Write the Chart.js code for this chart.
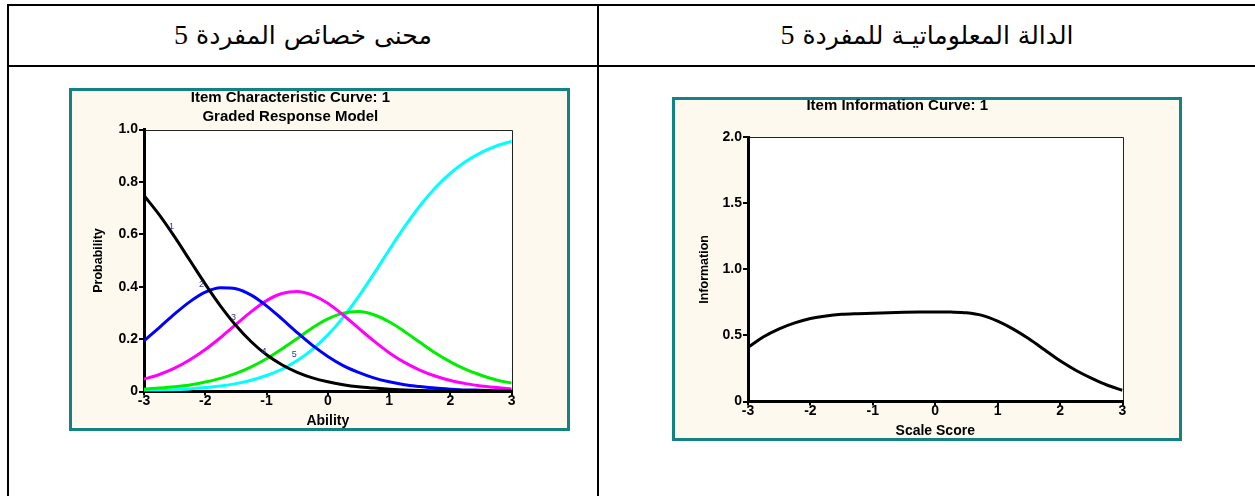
<!DOCTYPE html>
<html><head><meta charset="utf-8">
<script src="https://cdn.jsdelivr.net/npm/chart.js@4.4.1/dist/chart.umd.min.js"></script>
<style>
html,body{margin:0;padding:0;background:#fff;width:1255px;height:496px;overflow:hidden;position:relative;}
.line{position:absolute;background:#000;}
.head{position:absolute;top:5px;height:59px;display:flex;align-items:center;justify-content:center;color:#000;white-space:nowrap;}
.head span.t{display:inline-block;direction:rtl;font-family:"DejaVu Sans";font-size:25px;}
.head span.d{font-family:"Liberation Serif";font-size:28px;}
.frame{position:absolute;background:#FEF9EE;border:3px solid #138282;box-sizing:border-box;}
.cv{position:absolute;}
</style></head><body>
<div class="line" style="left:7px;top:4px;width:1260px;height:2px"></div>
<div class="line" style="left:7px;top:4px;width:2px;height:500px"></div>
<div class="line" style="left:7px;top:65px;width:1260px;height:2px"></div>
<div class="line" style="left:597px;top:4px;width:2px;height:500px"></div>
<div class="head" style="left:9px;width:588px"><span class="t">محنى خصائص المفردة <span class="d">5</span></span></div>
<div class="head" style="left:599px;width:656px"><span class="t">الدالة المعلوماتيـة للمفردة <span class="d">5</span></span></div>
<div class="frame" style="left:69px;top:88px;width:501px;height:343px"></div>
<div class="frame" style="left:672px;top:97px;width:510px;height:344px"></div>
<canvas id="icc" class="cv" width="501" height="347" style="left:69px;top:84px"></canvas>
<canvas id="iic" class="cv" width="510" height="349" style="left:672px;top:92px"></canvas>
<script>
// ---- data ----
const theta = [-3,-2.75,-2.5,-2.25,-2,-1.75,-1.5,-1.25,-1,-0.75,-0.5,-0.25,0,0.25,0.5,0.75,1,1.25,1.5,1.75,2,2.25,2.5,2.75,3];
const cat1 = [0.748,0.674,0.590,0.500,0.410,0.326,0.252,0.190,0.140,0.102,0.073,0.052,0.037,0.026,0.018,0.013,0.009,0.006,0.004,0.003,0.002,0.002,0.001,0.001,0.001];
const cat2 = [0.193,0.244,0.296,0.343,0.379,0.396,0.392,0.368,0.327,0.277,0.225,0.176,0.134,0.099,0.073,0.052,0.037,0.026,0.019,0.013,0.009,0.006,0.005,0.003,0.002];
const cat3 = [0.047,0.065,0.089,0.121,0.160,0.206,0.256,0.305,0.347,0.374,0.382,0.368,0.337,0.292,0.242,0.193,0.148,0.111,0.082,0.059,0.042,0.030,0.021,0.015,0.010];
const cat4 = [0.009,0.013,0.018,0.025,0.036,0.050,0.069,0.094,0.125,0.162,0.202,0.243,0.277,0.299,0.305,0.293,0.266,0.229,0.188,0.148,0.113,0.084,0.062,0.044,0.032];
const cat5 = [0.004,0.005,0.007,0.010,0.015,0.021,0.030,0.043,0.061,0.085,0.118,0.161,0.216,0.283,0.362,0.449,0.540,0.628,0.708,0.777,0.833,0.878,0.912,0.937,0.955];
const info = [0.41,0.49,0.55,0.595,0.628,0.648,0.66,0.665,0.668,0.672,0.675,0.677,0.678,0.677,0.672,0.652,0.608,0.548,0.475,0.392,0.308,0.237,0.177,0.125,0.085];
const catNames = ['1','2','3','4','5'];
const catLabelX = [-2.55,-2.06,-1.54,-1.04,-0.55];
const catLabelY = [0.629,0.409,0.282,0.152,0.142];
const xTicks = [-3,-2,-1,0,1,2,3];
const xTickLabels = ['-3','-2','-1','0','1','2','3'];
const probTicks = [0,0.2,0.4,0.6,0.8,1.0];
const probTickLabels = ['0','0.2','0.4','0.6','0.8','1.0'];
const infoTicks = [0,0.5,1.0,1.5,2.0];
const infoTickLabels = ['0','0.5','1.0','1.5','2.0'];
const iccTitle = ['Item Characteristic Curve: 1','Graded Response Model'];
const iicTitle = 'Item Information Curve: 1';

// ---- rendering ----
const FONT = '"Liberation Sans", Arial, sans-serif';
Chart.defaults.font.family = FONT;
Chart.defaults.color = '#000';

const plotFrame = {
  id: 'plotFrame',
  beforeDraw(chart) {
    const {ctx, chartArea: a} = chart;
    ctx.save();
    ctx.fillStyle = '#fff';
    ctx.fillRect(a.left, a.top, a.right - a.left, a.bottom - a.top);
    ctx.strokeStyle = '#222';
    ctx.lineWidth = 1;
    ctx.beginPath();
    ctx.moveTo(a.left, Math.round(a.top) + 0.5);
    ctx.lineTo(Math.round(a.right) + 0.5, Math.round(a.top) + 0.5);
    ctx.lineTo(Math.round(a.right) + 0.5, a.bottom);
    ctx.stroke();
    ctx.restore();
  }
};
const curveLabels = {
  id: 'curveLabels',
  afterDatasetsDraw(chart, args, opts) {
    if (!opts.text) return;
    const {ctx, scales: {x, y}} = chart;
    ctx.save();
    ctx.fillStyle = opts.color;
    ctx.font = '9px ' + FONT;
    ctx.textAlign = 'center';
    ctx.textBaseline = 'middle';
    opts.text.forEach((t, i) => ctx.fillText(t, x.getPixelForValue(opts.xs[i]), y.getPixelForValue(opts.ys[i])));
    ctx.restore();
  }
};

function pts(ys) { return theta.map((t, i) => ({x: t, y: ys[i]})); }
function ds(ys, color) {
  return {data: pts(ys), borderColor: color, borderWidth: 3, pointRadius: 0, fill: false,
          cubicInterpolationMode: 'monotone'};
}
function xScale(titleText) {
  return {
    type: 'linear', min: -3, max: 3,
    afterBuildTicks: s => { s.ticks = xTicks.map(v => ({value: v})); },
    afterFit: s => { s.height = 39.5; },
    ticks: {callback: (v, i) => xTickLabels[i], font: {size: 14, weight: 'bold', lineHeight: 1}, padding: -1, color: '#000', maxRotation: 0},
    grid: {display: true, drawOnChartArea: false, drawTicks: true, tickLength: 4, color: '#000', lineWidth: 2},
    border: {display: true, color: '#000', width: 3},
    title: {display: true, text: titleText, font: {size: 14, weight: 'bold', lineHeight: 1.2}, padding: {top: 0, bottom: 1.9}, color: '#000'}
  };
}
function yScale(titleText, max, ticks, labels, width, titlePad) {
  return {
    type: 'linear', min: 0, max: max,
    afterBuildTicks: s => { s.ticks = ticks.map(v => ({value: v})); },
    afterFit: s => { s.width = width; },
    ticks: {callback: (v, i) => labels[i], font: {size: 14, weight: 'bold'}, padding: 1, color: '#000'},
    grid: {display: true, drawOnChartArea: false, drawTicks: true, tickLength: 5, color: '#000', lineWidth: 2},
    border: {display: true, color: '#000', width: 3},
    title: {display: true, text: titleText, font: {size: 12.5, weight: 'bold', lineHeight: 1.2}, padding: {top: titlePad, bottom: 0}, color: '#000'}
  };
}

new Chart(document.getElementById('icc'), {
  type: 'line',
  data: {datasets: [ds(cat1, '#000000'), ds(cat2, '#0000FF'), ds(cat3, '#FF00FF'), ds(cat4, '#00EE00'), ds(cat5, '#00FFFF')]},
  options: {
    responsive: false, animation: false, events: [],
    layout: {padding: {left: 0, right: 58.3, top: 0, bottom: 0}},
    scales: {x: xScale('Ability'), y: yScale('Probability', 1, probTicks, probTickLabels, 75, 21.8)},
    plugins: {
      legend: {display: false}, tooltip: {enabled: false},
      title: {display: true, text: iccTitle, color: '#000', font: {size: 15, weight: 'bold', lineHeight: 18.4 / 15}, padding: {top: 5.1, bottom: 3.6}},
      curveLabels: {text: catNames, xs: catLabelX, ys: catLabelY, color: '#33339a'}
    }
  },
  plugins: [plotFrame, curveLabels]
});

new Chart(document.getElementById('iic'), {
  type: 'line',
  data: {datasets: [ds(info, '#000000')]},
  options: {
    responsive: false, animation: false, events: [],
    layout: {padding: {left: 0, right: 59.5, top: 0, bottom: 0}},
    scales: {x: xScale('Scale Score'), y: yScale('Information', 2, infoTicks, infoTickLabels, 76, 25.5)},
    plugins: {
      legend: {display: false}, tooltip: {enabled: false},
      title: {display: true, text: iicTitle, color: '#000', font: {size: 15, weight: 'bold', lineHeight: 18.4 / 15}, padding: {top: 4.5, bottom: 22.4}},
      curveLabels: {}
    }
  },
  plugins: [plotFrame, curveLabels]
});
</script>
</body></html>
